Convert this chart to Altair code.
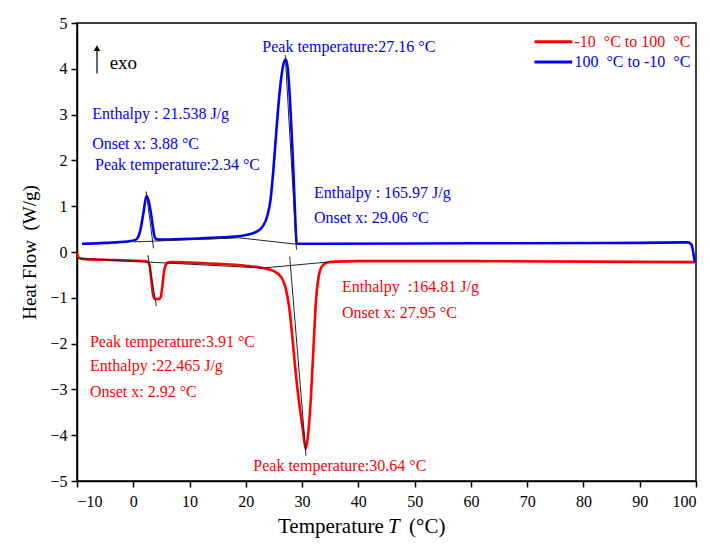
import altair as alt
import pandas as pd

# Heating curve (-10 °C to 100 °C), red
red_x = [-10, -9.85, -9.6, -9, -5, 0, 2.5, 2.9, 3.2, 3.5, 3.8, 4.5, 4.9, 5.2, 5.5, 5.9, 6.5,
         10, 15, 20, 23, 25, 26.3, 27.0, 27.7, 28.3, 29.0, 29.7, 30.2, 30.64, 31.1, 31.6,
         32.1, 32.5, 33.0, 33.6, 34.5, 36, 40, 60, 80, 100]
red_y = [-0.02, -0.09, -0.13, -0.15, -0.17, -0.19, -0.21, -0.3, -0.6, -0.92, -1.02, -1.03,
         -0.98, -0.7, -0.4, -0.26, -0.22, -0.23, -0.26, -0.3, -0.35, -0.42, -0.55, -0.75,
         -1.2, -1.9, -2.8, -3.5, -3.95, -4.3, -3.95, -3.1, -1.9, -1.0, -0.5, -0.3, -0.23,
         -0.21, -0.2, -0.2, -0.21, -0.22]

# Cooling curve (100 °C to -10 °C), blue
blue_x = [-9.1, -5, -1, 0.5, 1.2, 1.8, 2.34, 2.8, 3.2, 3.6, 3.9, 4.5, 10, 16, 19, 21, 22,
          23, 23.8, 24.4, 24.9, 25.4, 25.9, 26.4, 26.9, 27.16, 27.5, 27.9, 28.3, 28.7,
          28.95, 29.05, 35, 60, 90, 98.6, 99.2, 99.5, 99.7, 99.85]
blue_y = [0.18, 0.2, 0.23, 0.27, 0.45, 0.85, 1.22, 1.08, 0.8, 0.45, 0.3, 0.27, 0.29, 0.32,
          0.35, 0.4, 0.45, 0.56, 0.78, 1.15, 1.8, 2.6, 3.35, 3.9, 4.18, 4.2, 3.95, 3.2,
          2.2, 1.0, 0.3, 0.18, 0.18, 0.19, 0.2, 0.21, 0.16, 0.0, -0.15, -0.22]

# Integration baselines and peak/onset guide lines (black)
guide_seg = [1, 1, 1, 2, 2, 2, 3, 3, 4, 4, 5, 5, 6, 6]
guide_x = [0, 18.8, 29.0, -9.7, 23.0, 34.5, 2.3, 3.6, 27.0, 29.0, 2.6, 4.1, 27.8, 30.7]
guide_y = [0.22, 0.31, 0.17, -0.14, -0.35, -0.22, 1.32, 0.08, 4.3, 0.05, -0.07, -1.18, -0.1, -4.45]

NB = "\u00a0"
# Annotations
ann_text = ["Peak temperature:27.16 °C", "Enthalpy : 21.538 J/g", "Onset x: 3.88 °C",
            "Peak temperature:2.34 °C", "Enthalpy : 165.97 J/g", "Onset x: 29.06 °C",
            "Enthalpy " + NB + ":164.81 J/g", "Onset x: 27.95 °C", "Peak temperature:3.91 °C",
            "Enthalpy :22.465 J/g", "Onset x: 2.92 °C", "Peak temperature:30.64 °C"]
ann_x = [38.3, -7.3, -7.3, -6.8, 32.1, 32.1, 37.1, 37.1, -7.7, -7.7, -7.7, 36.7]
ann_y = [4.48, 3.01, 2.36, 1.9, 1.29, 0.74, -0.76, -1.33, -1.97, -2.49, -3.06, -4.67]
ann_align = ["center", "left", "left", "left", "left", "left", "left", "left", "left",
             "left", "left", "center"]
ann_color = ["#0000ff"] * 6 + ["#ff0000"] * 6

legend_labels = ["-10 " + NB + "°C to 100 " + NB + "°C", "100 " + NB + "°C to -10 " + NB + "°C"]
legend_colors = ["#ff0000", "#0000ff"]
legend_y = [4.59, 4.15]

x_ticks = list(range(-10, 101, 10))
y_ticks = list(range(-5, 6))

FONT = "Liberation Serif"

curves = pd.DataFrame({
    "x": red_x + blue_x,
    "y": red_y + blue_y,
    "series": ["heat"] * len(red_x) + ["cool"] * len(blue_x),
    "idx": list(range(len(red_x))) + list(range(len(blue_x))),
})
guides = pd.DataFrame({"x": guide_x, "y": guide_y, "seg": guide_seg,
                       "idx": list(range(len(guide_x)))})
ann = pd.DataFrame({"x": ann_x, "y": ann_y, "text": ann_text, "align": ann_align,
                    "color": ann_color})
leg = pd.DataFrame({"x1": [71.3, 71.3], "x2": [78.0, 78.0], "tx": [78.4, 78.4],
                    "y": legend_y, "text": legend_labels, "color": legend_colors})
exo = pd.DataFrame({"x": [-6.45], "y1": [3.9], "y2": [4.45], "ty": [4.13], "tx": [-4.2]})
xtitle = pd.DataFrame({"text": ["Temperature", "T", "(°C)"],
                       "px": [201, 311, 332], "style": ["normal", "italic", "normal"]})

xs = alt.Scale(domain=[-10, 100], nice=False, zero=False)
ys = alt.Scale(domain=[-5, 5], nice=False, zero=False)

X = alt.X("x:Q", scale=xs, axis=alt.Axis(values=x_ticks, title=None, labelPadding=6))
Y = alt.Y("y:Q", scale=ys, axis=alt.Axis(values=y_ticks, title="Heat Flow " + NB + "(W/g)",
                                          titleFontSize=19, titlePadding=10, labelPadding=4))

lines = alt.Chart(curves).mark_line(strokeWidth=2.6, interpolate="monotone").encode(
    x=X, y=Y,
    color=alt.Color("series:N", scale=alt.Scale(domain=["heat", "cool"],
                                                 range=["#ff0000", "#0000ff"]), legend=None),
    order="idx:Q",
)

guide_lines = alt.Chart(guides).mark_line(strokeWidth=1, color="#222222").encode(
    x="x:Q", y="y:Q", detail="seg:N", order="idx:Q"
)

texts_left = alt.Chart(ann).transform_filter("datum.align == 'left'").mark_text(
    font=FONT, fontSize=16, align="left", baseline="middle").encode(
    x="x:Q", y="y:Q", text="text:N", color=alt.Color("color:N", scale=None))
texts_center = alt.Chart(ann).transform_filter("datum.align == 'center'").mark_text(
    font=FONT, fontSize=16, align="center", baseline="middle").encode(
    x="x:Q", y="y:Q", text="text:N", color=alt.Color("color:N", scale=None))

leg_lines = alt.Chart(leg).mark_rule(strokeWidth=3).encode(
    x="x1:Q", x2="x2:Q", y="y:Q", color=alt.Color("color:N", scale=None))
leg_text = alt.Chart(leg).mark_text(font=FONT, fontSize=16, align="left",
                                    baseline="middle").encode(
    x="tx:Q", y="y:Q", text="text:N", color=alt.Color("color:N", scale=None))

exo_rule = alt.Chart(exo).mark_rule(strokeWidth=1.2, color="black").encode(
    x="x:Q", y="y1:Q", y2="y2:Q")
exo_head = alt.Chart(exo).mark_point(shape="triangle-up", filled=True, color="black",
                                     size=45, opacity=1).encode(x="x:Q", y="y2:Q")
exo_text = alt.Chart(exo).mark_text(font=FONT, fontSize=19, align="left",
                                    baseline="middle", color="black").encode(
    x="tx:Q", y="ty:Q", text=alt.value("exo"))

xt_normal = alt.Chart(xtitle).transform_filter("datum.style == 'normal'").mark_text(
    font=FONT, fontSize=21, align="left", baseline="middle", color="black").encode(
    x=alt.X("px:Q", scale=None), y=alt.value(504), text="text:N")
xt_italic = alt.Chart(xtitle).transform_filter("datum.style == 'italic'").mark_text(
    font=FONT, fontSize=21, fontStyle="italic", align="left", baseline="middle",
    color="black").encode(
    x=alt.X("px:Q", scale=None), y=alt.value(504), text="text:N")

chart = alt.layer(lines, guide_lines, texts_left, texts_center, leg_lines, leg_text,
                  exo_rule, exo_head, exo_text, xt_normal, xt_italic).properties(
    width=619, height=458,
    autosize=alt.AutoSizeParams(type="none"),
    padding={"left": 69, "top": 15, "right": 6, "bottom": 59},
).configure_view(stroke="black", strokeWidth=1.5).configure_axis(
    grid=False, domainColor="black", domainWidth=1.5, tickColor="black", tickWidth=1.5,
    tickSize=6, labelFont=FONT, labelFontSize=16, labelColor="black", titleFont=FONT,
    titleColor="black", titleFontWeight="normal"
)

chart.save("out.html", embed_options={"renderer": "svg", "actions": False})
